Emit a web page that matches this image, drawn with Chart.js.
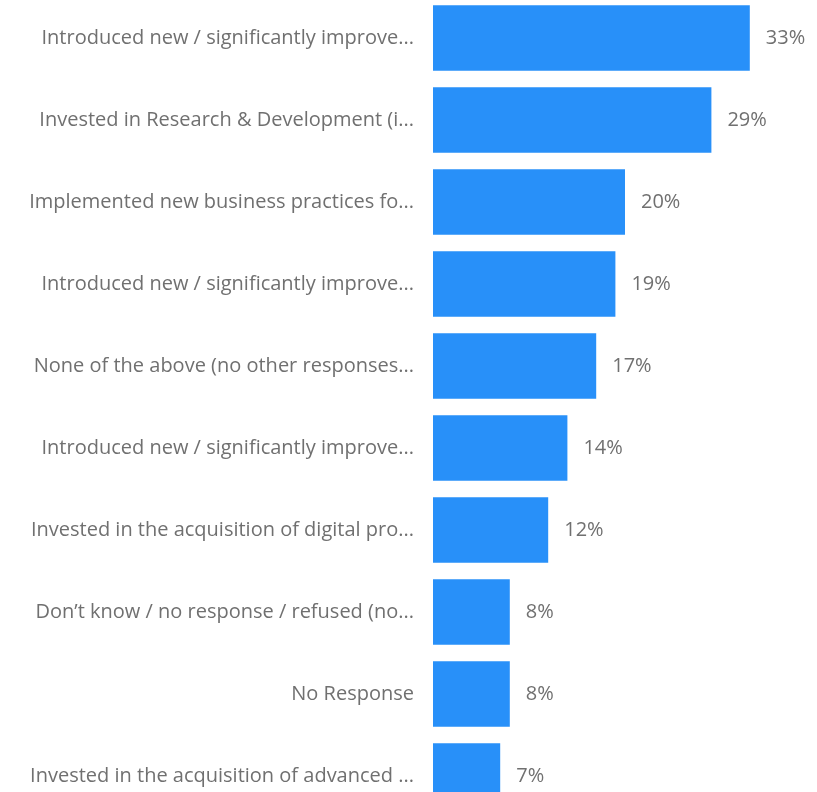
<!DOCTYPE html>
<html>
<head>
<meta charset="utf-8">
<script src="https://cdn.jsdelivr.net/npm/chart.js@4"></script>
<style>
  html, body { margin: 0; padding: 0; background: #ffffff; overflow: hidden; }
  #wrap { position: absolute; left: 0; top: -3px; width: 817px; height: 820px; }
</style>
</head>
<body>
<div id="wrap"><canvas id="bars"></canvas></div>
<script>
// Kategorier (avkortade som i rapporten) och andel svarande i procent
var categories = [
  'Introduced new / significantly improve...',
  'Invested in Research & Development (i...',
  'Implemented new business practices fo...',
  'Introduced new / significantly improve...',
  'None of the above (no other responses...',
  'Introduced new / significantly improve...',
  'Invested in the acquisition of digital pro...',
  'Don\u2019t know / no response / refused (no...',
  'No Response',
  'Invested in the acquisition of advanced ...'
];
var shares = [33, 29, 20, 19, 17, 14, 12, 8, 8, 7];

var textColor = '#707070';
var fontFamily = '"Open Sans", "Noto Sans", sans-serif';

// Procentetiketter till höger om varje stapel
var valueLabels = {
  id: 'valueLabels',
  afterDatasetsDraw: function(chart) {
    var ctx = chart.ctx;
    var meta = chart.getDatasetMeta(0);
    ctx.save();
    ctx.font = '20px ' + fontFamily;
    ctx.fillStyle = textColor;
    ctx.textAlign = 'left';
    ctx.textBaseline = 'middle';
    meta.data.forEach(function(bar, i) {
      ctx.fillText(shares[i] + '%', bar.x + 16, bar.y);
    });
    ctx.restore();
  }
};

var ctx = document.getElementById('bars').getContext('2d');
new Chart(ctx, {
  type: 'bar',
  data: {
    labels: categories,
    datasets: [{
      data: shares,
      backgroundColor: '#2890f9',
      borderWidth: 0,
      barPercentage: 0.8,
      categoryPercentage: 1.0
    }]
  },
  options: {
    indexAxis: 'y',
    responsive: true,
    maintainAspectRatio: false,
    animation: false,
    layout: { padding: 0 },
    plugins: {
      legend: { display: false },
      tooltip: { enabled: false }
    },
    scales: {
      x: {
        display: false,
        min: 0,
        max: 40
      },
      y: {
        grid: { display: false, drawTicks: false },
        border: { display: false },
        afterFit: function(scale) {
          // fast bredd för etikettkolumnen, ingen extra luft upptill/nedtill
          scale.width = 433;
          scale.paddingTop = 0;
          scale.paddingBottom = 0;
        },
        ticks: {
          padding: 19,
          color: textColor,
          font: { size: 20, family: fontFamily }
        }
      }
    }
  },
  plugins: [valueLabels]
});
</script>
</body>
</html>
